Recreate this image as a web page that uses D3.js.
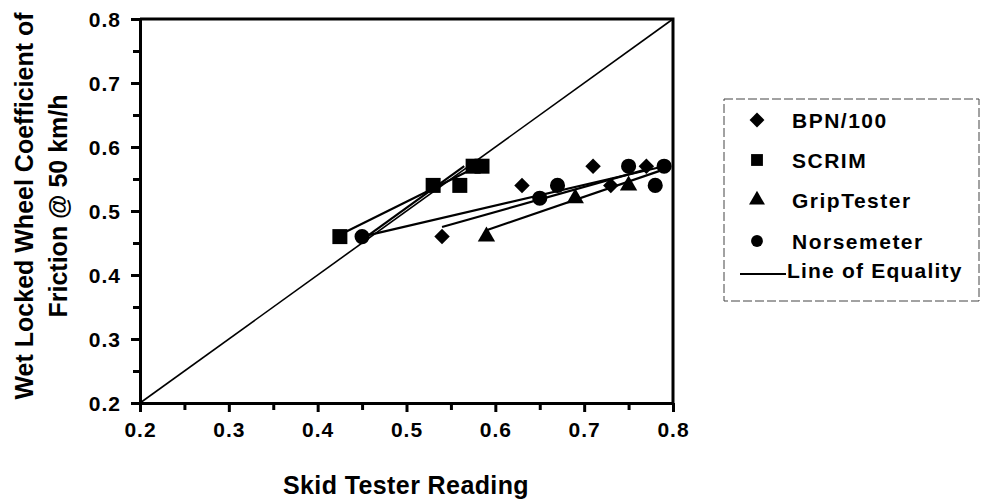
<!DOCTYPE html>
<html>
<head>
<meta charset="utf-8">
<script src="https://cdn.jsdelivr.net/npm/d3@7"></script>
<style>
  body { margin: 0; background: #fff; }
  text { font-family: "Liberation Sans", Arial, sans-serif; font-weight: bold; fill: #000; }
</style>
</head>
<body>
<div id="chart"></div>
<script>
// Data
const seriesNames = ["BPN/100", "SCRIM", "GripTester", "Norsemeter"];
const bpnX = [0.54, 0.63, 0.71, 0.73, 0.77];
const bpnY = [0.46, 0.54, 0.57, 0.54, 0.57];
const scrimX = [0.425, 0.53, 0.56, 0.575, 0.585];
const scrimY = [0.46, 0.54, 0.54, 0.57, 0.57];
const gripX = [0.59, 0.69, 0.75];
const gripY = [0.46, 0.52, 0.54];
const norseX = [0.45, 0.65, 0.67, 0.75, 0.78, 0.79];
const norseY = [0.46, 0.52, 0.54, 0.57, 0.54, 0.57];

// fitted lines drawn on the chart, [x1, y1, x2, y2]
const fitLines = [
  [0.425, 0.463, 0.585, 0.573],
  [0.45, 0.455, 0.565, 0.57],
  [0.45, 0.46, 0.79, 0.57],
  [0.54, 0.475, 0.77, 0.565],
  [0.59, 0.47, 0.79, 0.565]
];
const equality = [0.2, 0.8];
const majorTicks = [0.2, 0.3, 0.4, 0.5, 0.6, 0.7, 0.8];
const minorTicks = [0.25, 0.35, 0.45, 0.55, 0.65, 0.75];

const width = 983, height = 500;
const svg = d3.select("#chart").append("svg")
  .attr("width", width)
  .attr("height", height);

const x = d3.scaleLinear().domain([0.2, 0.8]).range([140, 673]);
const y = d3.scaleLinear().domain([0.2, 0.8]).range([403, 19]);

// frame (top and right)
svg.append("path")
  .attr("d", `M${x(0.2)},${y(0.8)}H${x(0.8)}V${y(0.2)}`)
  .attr("fill", "none")
  .attr("stroke", "#000")
  .attr("stroke-width", 3);

// axes
const fmt = d3.format(".1f");
const xAxis = svg.append("g").attr("transform", `translate(0,${y(0.2)})`)
  .call(d3.axisBottom(x).tickValues(majorTicks).tickSize(9).tickSizeOuter(0).tickFormat(fmt));
svg.append("g").attr("transform", `translate(0,${y(0.2)})`)
  .call(d3.axisBottom(x).tickValues(minorTicks).tickSize(7).tickSizeOuter(0).tickFormat(""));
const yAxis = svg.append("g").attr("transform", `translate(${x(0.2)},0)`)
  .call(d3.axisLeft(y).tickValues(majorTicks).tickSize(9).tickSizeOuter(0).tickFormat(fmt));
svg.append("g").attr("transform", `translate(${x(0.2)},0)`)
  .call(d3.axisLeft(y).tickValues(minorTicks).tickSize(7).tickSizeOuter(0).tickFormat(""));

svg.selectAll(".domain").attr("stroke", "#000").attr("stroke-width", 3);
svg.selectAll(".tick line").attr("stroke", "#000").attr("stroke-width", 3);
xAxis.selectAll(".tick text")
  .attr("y", 34)
  .attr("dy", 0)
  .style("font-size", "21px")
  .style("letter-spacing", "1px")
  .style("font-family", "Liberation Sans, Arial, sans-serif")
  .style("font-weight", "bold");
yAxis.selectAll(".tick text")
  .attr("x", -19)
  .attr("dy", "0.36em")
  .style("font-size", "21px")
  .style("letter-spacing", "1px")
  .style("font-family", "Liberation Sans, Arial, sans-serif")
  .style("font-weight", "bold");

// axis titles
svg.append("text")
  .attr("x", 406).attr("y", 494)
  .attr("text-anchor", "middle")
  .style("font-size", "25px")
  .style("letter-spacing", "0.4px")
  .text("Skid Tester Reading");

const yTitle = svg.append("text")
  .attr("transform", "translate(33,206) rotate(-90)")
  .attr("text-anchor", "middle")
  .style("font-size", "25px");
yTitle.append("tspan").attr("x", 0).attr("y", 0).text("Wet Locked Wheel Coefficient of");
yTitle.append("tspan").attr("x", 0).attr("y", 34).text("Friction @ 50 km/h");

// line of equality
svg.append("line")
  .attr("x1", x(equality[0])).attr("y1", y(equality[0]))
  .attr("x2", x(equality[1])).attr("y2", y(equality[1]))
  .attr("stroke", "#000")
  .attr("stroke-width", 1.6);

// fitted lines
svg.selectAll(".fit")
  .data(fitLines)
  .enter().append("line")
  .attr("class", "fit")
  .attr("x1", d => x(d[0])).attr("y1", d => y(d[1]))
  .attr("x2", d => x(d[2])).attr("y2", d => y(d[3]))
  .attr("stroke", "#000")
  .attr("stroke-width", 2.2);

// markers
const shapes = {
  "BPN/100": d3.symbol().type(d3.symbolSquare).size(120),
  "SCRIM": d3.symbol().type(d3.symbolSquare).size(225),
  "GripTester": d3.symbol().type(d3.symbolTriangle).size(130),
  "Norsemeter": d3.symbol().type(d3.symbolCircle).size(180)
};
const rot = { "BPN/100": 45, "SCRIM": 0, "GripTester": 0, "Norsemeter": 0 };

const series = [
  { name: "BPN/100", xs: bpnX, ys: bpnY },
  { name: "SCRIM", xs: scrimX, ys: scrimY },
  { name: "GripTester", xs: gripX, ys: gripY },
  { name: "Norsemeter", xs: norseX, ys: norseY }
];

series.forEach(s => {
  svg.selectAll(null)
    .data(s.xs.map((v, i) => [v, s.ys[i]]))
    .enter().append("path")
    .attr("d", shapes[s.name])
    .attr("transform", d => `translate(${x(d[0])},${y(d[1])}) rotate(${rot[s.name]})`)
    .attr("fill", "#000");
});

// legend
const legend = svg.append("g");
legend.append("rect")
  .attr("x", 724).attr("y", 99)
  .attr("width", 255).attr("height", 202)
  .attr("fill", "none")
  .attr("stroke", "#444")
  .attr("stroke-width", 1)
  .attr("stroke-dasharray", "9,3");

const rowY = [120, 160, 200, 241];
seriesNames.forEach((name, i) => {
  legend.append("path")
    .attr("d", shapes[name].size(name === "SCRIM" ? 140 : 110))
    .attr("transform", `translate(757,${rowY[i]}) rotate(${rot[name]})`)
    .attr("fill", "#000");
  legend.append("text")
    .attr("x", 792).attr("y", rowY[i])
    .attr("dy", "0.36em")
    .style("font-size", "21px")
    .style("letter-spacing", "1.5px")
    .text(name);
});
legend.append("line")
  .attr("x1", 740).attr("x2", 786)
  .attr("y1", 274).attr("y2", 274)
  .attr("stroke", "#000").attr("stroke-width", 2);
legend.append("text")
  .attr("x", 787).attr("y", 270)
  .attr("dy", "0.36em")
  .style("font-size", "21px")
  .style("letter-spacing", "1.2px")
  .text("Line of Equality");
</script>
</body>
</html>
